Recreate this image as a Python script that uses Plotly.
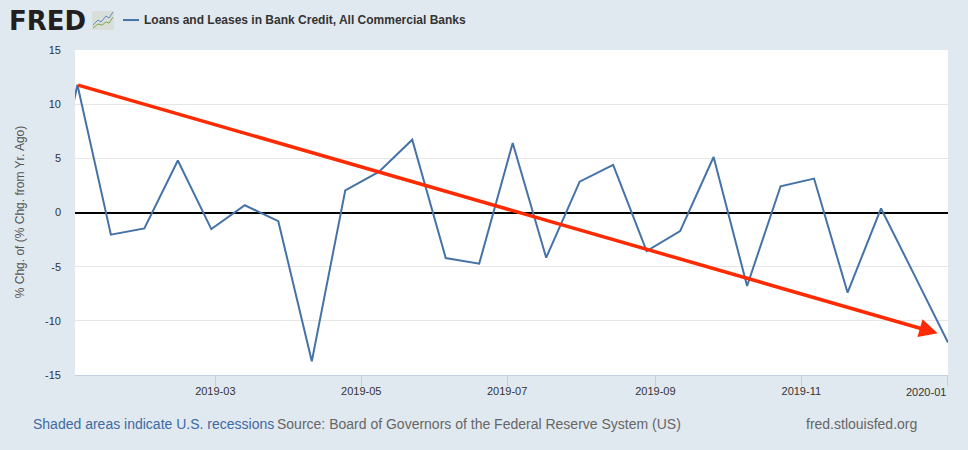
import pandas as pd
import plotly.graph_objects as go

# Wednesday observations, every two weeks (first one lies left of the visible window)
dates = ["2018-12-19", "2019-01-02", "2019-01-16", "2019-01-30", "2019-02-13", "2019-02-27",
         "2019-03-13", "2019-03-27", "2019-04-10", "2019-04-24", "2019-05-08", "2019-05-22",
         "2019-06-05", "2019-06-19", "2019-07-03", "2019-07-17", "2019-07-31", "2019-08-14",
         "2019-08-28", "2019-09-11", "2019-09-25", "2019-10-09", "2019-10-23", "2019-11-06",
         "2019-11-20", "2019-12-04", "2019-12-18", "2020-01-01"]
values = [-2.9, 11.8, -2.05, -1.47, 4.8, -1.53, 0.67, -0.8, -13.74, 2.05, 3.74, 6.72,
          -4.2, -4.72, 6.41, -4.17, 2.85, 4.39, -3.56, -1.72, 5.12, -6.78, 2.42, 3.13,
          -7.39, 0.37, -5.8, -12.0]

series_name = "Loans and Leases in Bank Credit, All Commercial Banks"
y_title = "% Chg. of (% Chg. from Yr. Ago)"
y_ticks = [-15, -10, -5, 0, 5, 10, 15]
y_tick_labels = ["-15", "-10", "-5", "0", "5", "10", "15"]
x_ticks = ["2019-03-01", "2019-05-01", "2019-07-01", "2019-09-01", "2019-11-01", "2020-01-01"]
x_tick_labels = ["2019-03", "2019-05", "2019-07", "2019-09", "2019-11", ""]

trend_start = ("2019-01-02", 11.8)
trend_end = ("2019-12-28", -11.15)

BG = "#e1e9f0"
BLUE = "#4572a7"
RED = "#ff2a00"
L, R, T, B = 75, 948, 50, 375.5


def px(x):
    return (x - L) / (R - L)


def py(y):
    return (B - y) / (B - T)


x_vals = pd.to_datetime(dates) + pd.Timedelta(hours=8)

fig = go.Figure()
fig.add_trace(go.Scatter(x=x_vals, y=values, mode="lines", name=series_name,
                         line=dict(color=BLUE, width=2), hoverinfo="skip", showlegend=False))


def note(text, x, y, size, color, anchor="left", **kw):
    fig.add_annotation(text=text, x=px(x), y=py(y), xref="paper", yref="paper", showarrow=False,
                       xanchor=anchor, yanchor="middle", align=anchor if anchor != "center" else "center",
                       font=dict(family=kw.pop("family", "Liberation Sans"), size=size, color=color),
                       borderpad=0, borderwidth=0, **kw)


fig.add_annotation(x=trend_end[0], y=trend_end[1], ax=trend_start[0], ay=trend_start[1],
                   xref="x", yref="y", axref="x", ayref="y", text="", showarrow=True,
                   arrowhead=2, arrowsize=1.05, arrowwidth=3.5, arrowcolor=RED)

note("<b>FRED</b>", 9, 21, 26, "#231f20", family="DejaVu Sans")
note("<b>" + series_name + "</b>", 144, 20, 12, "#333333")
note("Shaded areas indicate U.S. recessions", 33, 425, 14, "#3e6aa0")
note("Source: Board of Governors of the Federal Reserve System (US)", 277, 425, 14, "#666666")
note("fred.stlouisfed.org", 806, 425, 14, "#666666")
note(y_title, 20, 212.5, 12, "#555555", anchor="center", textangle=-90)
fig.add_annotation(text="2020-01", x="2020-01-01 08:00", y=py(393), xref="x", yref="paper", showarrow=False,
                   xanchor="right", yanchor="middle", font=dict(family="Liberation Sans", size=11, color="#333333"))

shapes = [
    dict(type="line", xref="paper", yref="paper", x0=px(123), x1=px(139), y0=py(20), y1=py(20),
         line=dict(color=BLUE, width=2)),
    dict(type="rect", xref="paper", yref="paper", x0=px(92), x1=px(114), y0=py(30), y1=py(11),
         fillcolor="#d9dedb", line=dict(width=0)),
]


def poly(points, color):
    path = "M " + " L ".join(f"{px(a):.5f},{py(b):.5f}" for a, b in points)
    return dict(type="path", xref="paper", yref="paper", path=path, line=dict(color=color, width=1))


shapes.append(poly([(93, 25), (98, 20), (101, 22), (106, 16), (109, 18), (113, 12)], "#5b8db8"))
shapes.append(poly([(93, 28), (98, 24), (102, 25), (106, 22), (109, 23), (113, 17)], "#7fa650"))
fig.update_layout(shapes=shapes)

tick_font = dict(family="Liberation Sans", size=11, color="#333333")
fig.update_layout(
    width=968, height=450, autosize=False,
    margin=dict(l=L, r=968 - R, t=T, b=450 - B, pad=0),
    paper_bgcolor=BG, plot_bgcolor="#ffffff", showlegend=False,
    font=dict(family="Liberation Sans", size=11, color="#333333"),
    xaxis=dict(type="date", range=["2019-01-01 08:00", "2020-01-01 08:00"],
               tickmode="array", tickvals=x_ticks, ticktext=x_tick_labels, tickfont=tick_font,
               ticks="outside", ticklen=10, tickwidth=1, tickcolor="#c0d0e0", ticklabelstandoff=-4,
               showgrid=False, showline=True, linecolor="#c0d0e0", linewidth=1, zeroline=False),
    yaxis=dict(range=[-15, 15], tickmode="array", tickvals=y_ticks, ticktext=y_tick_labels, tickfont=tick_font,
               showgrid=True, gridcolor="#e6e6e6", gridwidth=1, showline=False,
               zeroline=True, zerolinecolor="#000000", zerolinewidth=2,
               ticks="", ticklabelstandoff=13),
)

fig.write_html("out.html", config=dict(displayModeBar=False),
               post_script="document.body.style.margin='0';document.documentElement.style.overflow='hidden';")
